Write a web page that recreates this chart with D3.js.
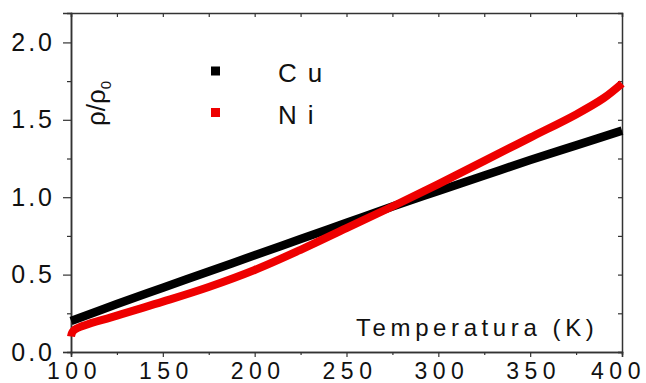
<!DOCTYPE html>
<html>
<head>
<meta charset="utf-8">
<script src="https://cdn.jsdelivr.net/npm/d3@7"></script>
<style>
  html, body { margin: 0; padding: 0; background: #fff; }
  svg { display: block; font-family: "Liberation Sans", Arial, sans-serif; }
</style>
</head>
<body>
<svg id="chart" width="646" height="383"></svg>
<script>
// Temperature (K) and normalised resistivity rho/rho0
const cuTemp = [100, 125, 150, 175, 200, 225, 250, 275, 300, 325, 350, 375, 400];
const cuRho  = [0.20, 0.31, 0.415, 0.52, 0.625, 0.73, 0.835, 0.94, 1.04, 1.14, 1.24, 1.335, 1.43];

const niTemp = [100, 101.5, 125, 150, 175, 200, 225, 250, 275, 300, 325, 350, 375, 390, 400];
const niRho  = [0.10, 0.14, 0.235, 0.325, 0.42, 0.53, 0.66, 0.80, 0.94, 1.085, 1.235, 1.385, 1.535, 1.64, 1.735];

const xTicks = [100, 150, 200, 250, 300, 350, 400];
const yTicks = [0.0, 0.5, 1.0, 1.5, 2.0];
const legendItems = [
  { name: "Cu", color: "#000000" },
  { name: "Ni", color: "#ee0000" }
];

const svg = d3.select("#chart");
const m = { left: 71, right: 622, top: 13, bottom: 352 };

const x = d3.scaleLinear().domain([100, 400]).range([m.left, m.right]);
const y = d3.scaleLinear().domain([0, 2.19]).range([m.bottom, m.top]);

const frame = "#333";

// minor ticks every 25 K / 0.25
const xMinor = d3.range(125, 400, 50);
const yMinor = d3.range(0.25, 2.19, 0.5);

// bottom axis (ticks outward)
const gx = svg.append("g").attr("transform", `translate(0,${m.bottom})`);
gx.call(d3.axisBottom(x).tickValues(xTicks).tickFormat(d3.format("d")).tickSize(5).tickPadding(6));
gx.append("g").call(d3.axisBottom(x).tickValues(xMinor).tickSize(3).tickFormat(""));

// left axis (ticks outward)
const gy = svg.append("g").attr("transform", `translate(${m.left},0)`);
gy.call(d3.axisLeft(y).tickValues(yTicks).tickFormat(d3.format(".1f")).tickSize(8).tickPadding(8));
gy.append("g").call(d3.axisLeft(y).tickValues(yMinor).tickSize(4).tickFormat(""));

// top axis (ticks inward)
const gt = svg.append("g").attr("transform", `translate(0,${m.top})`);
gt.call(d3.axisTop(x).tickValues(xTicks.concat(xMinor)).tickSize(-4).tickFormat(""));

// right axis (ticks inward)
const gr = svg.append("g").attr("transform", `translate(${m.right},0)`);
gr.call(d3.axisRight(y).tickValues(yTicks.concat(yMinor)).tickSize(-4).tickFormat(""));

svg.selectAll(".domain").attr("stroke", frame).attr("stroke-width", 1.5);
svg.selectAll(".tick line").attr("stroke", frame).attr("stroke-width", 1.2);
svg.selectAll(".tick text").attr("fill", "#111");
gx.selectAll(".tick text").style("font-size", "23px").style("letter-spacing", "5.5px")
  .attr("dx", d => d === 400 ? "-4px" : "3px");
gy.selectAll(".tick text").style("font-size", "25px").style("letter-spacing", "3px");

// data lines
const line = d3.line().x(d => x(d[0])).y(d => y(d[1])).curve(d3.curveCatmullRom.alpha(0.5));
const cuData = cuTemp.map((t, i) => [t, cuRho[i]]);
const niData = niTemp.map((t, i) => [t, niRho[i]]);

svg.append("path").datum(cuData)
  .attr("d", line).attr("fill", "none")
  .attr("stroke", legendItems[0].color).attr("stroke-width", 8.5);
svg.append("path").datum(niData)
  .attr("d", line).attr("fill", "none")
  .attr("stroke", legendItems[1].color).attr("stroke-width", 8);

// legend
const lg = svg.append("g");
legendItems.forEach((it, i) => {
  const cy = 71 + i * 41.5;
  lg.append("rect").attr("x", 211).attr("y", cy - 4.5).attr("width", 9).attr("height", 9).attr("fill", it.color);
  lg.append("text").attr("x", 278).attr("y", cy + 11)
    .style("font-size", "26px").style("letter-spacing", "11px").attr("fill", "#111")
    .text(it.name);
});

// axis titles
svg.append("text")
  .attr("x", 356).attr("y", 336)
  .style("font-size", "24px").style("letter-spacing", "4.6px").attr("fill", "#111")
  .text("Temperatura (K)");

const yl = svg.append("text")
  .attr("transform", "translate(105,126) rotate(-90)")
  .style("font-size", "26px").attr("fill", "#111");
yl.append("tspan").text("ρ/ρ");
yl.append("tspan").attr("dy", 6).style("font-size", "15px").text("0");
</script>
</body>
</html>
